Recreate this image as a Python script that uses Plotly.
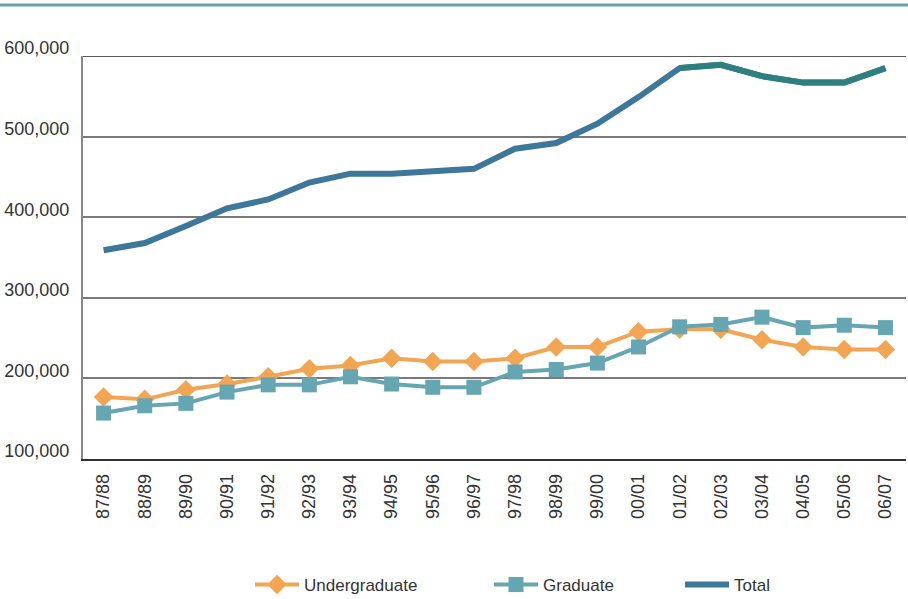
import plotly.graph_objects as go

years = ["87/88", "88/89", "89/90", "90/91", "91/92", "92/93", "93/94", "94/95",
         "95/96", "96/97", "97/98", "98/99", "99/00", "00/01", "01/02", "02/03",
         "03/04", "04/05", "05/06", "06/07"]
undergraduate = [177000, 174000, 186000, 193000, 202000, 212000, 216000, 225000,
                 221000, 221000, 225000, 239000, 239000, 258000, 261000, 261000,
                 248000, 239000, 236000, 236000]
graduate = [157000, 166000, 169000, 183000, 192000, 192000, 202000, 193000,
            189000, 189000, 208000, 211000, 219000, 239000, 264000, 267000,
            276000, 263000, 266000, 263000]
total = [359000, 368000, 389000, 411000, 422000, 443000, 454000, 454000,
         457000, 460000, 485000, 492000, 516000, 549000, 585000, 589000,
         575000, 567000, 567000, 585000]
y_ticks = [100000, 200000, 300000, 400000, 500000, 600000]

ORANGE = "#f2a553"
TEAL = "#66a5b2"
BLUE = "#3d7799"
DARKTEAL = "#2e7f80"
SANS = "Liberation Sans, Arial, sans-serif"

split = years.index("01/02")

fig = go.Figure()
fig.add_trace(go.Scatter(x=years, y=total, name="Total", mode="lines",
                         line=dict(color=BLUE, width=6), legend="legend3"))
fig.add_trace(go.Scatter(x=years[split:], y=total[split:], name="Total", mode="lines",
                         line=dict(color=DARKTEAL, width=6), showlegend=False,
                         legend="legend3"))
fig.add_trace(go.Scatter(x=years, y=undergraduate, name="Undergraduate",
                         mode="lines+markers",
                         line=dict(color=ORANGE, width=4),
                         marker=dict(symbol="diamond", size=15, color=ORANGE),
                         legend="legend"))
fig.add_trace(go.Scatter(x=years, y=graduate, name="Graduate",
                         mode="lines+markers",
                         line=dict(color=TEAL, width=4),
                         marker=dict(symbol="square", size=15, color=TEAL),
                         legend="legend2"))

W, H = 908, 599
L, R, T, B = 83, 2, 56, 140

def leg(xpx):
    return dict(xref="container", yref="container", x=xpx / W, y=1 - 585 / H,
                xanchor="left", yanchor="middle", orientation="h",
                font=dict(family=SANS, size=17, color="#333333"),
                itemwidth=44, bgcolor="rgba(0,0,0,0)")

fig.update_layout(
    width=W, height=H,
    margin=dict(l=L, r=R, t=T, b=B),
    paper_bgcolor="white", plot_bgcolor="white",
    showlegend=True,
    legend=leg(250),
    legend2=leg(489),
    legend3=leg(680),
    xaxis=dict(
        type="category", range=[-0.5, len(years) - 0.5],
        tickangle=-90, showgrid=False, showline=True, linecolor="#333333",
        linewidth=1.5, ticks="", ticklabelstandoff=6,
        tickfont=dict(family=SANS, size=18, color="#333333"),
    ),
    yaxis=dict(
        range=[100000, 600000], tickvals=y_ticks,
        ticktext=[f"{v:,}" for v in y_ticks],
        showgrid=True, gridcolor="#7a7a7a", gridwidth=1.5,
        showline=True, linecolor="#888888", linewidth=2,
        zeroline=False, ticks="", ticklabelstandoff=8, ticklabelshift=-8,
        tickfont=dict(family=SANS, size=18, color="#333333"),
    ),
)

# top border of plot area
fig.add_shape(type="line", xref="paper", yref="y", x0=0, x1=1,
              y0=600000, y1=600000, line=dict(color="#222222", width=1.5))
# decorative teal rule at the very top
fig.add_shape(type="line", xref="paper", yref="paper",
              x0=-L / (W - L - R), x1=1 + R / (W - L - R) + 0.01,
              y0=1 + (T - 5) / (H - T - B), y1=1 + (T - 5) / (H - T - B),
              line=dict(color="#6a9fa8", width=3))

fig.write_html("out.html", config={"displayModeBar": False},
               post_script="document.body.style.margin='0px';document.body.style.overflow='hidden';")
